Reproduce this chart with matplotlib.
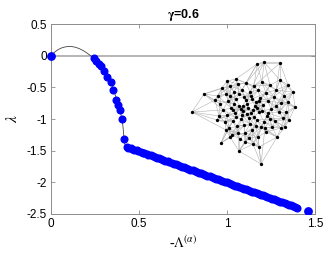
import numpy as np
import matplotlib
matplotlib.use("Agg")
import matplotlib.pyplot as plt

plt.rcParams['font.family'] = ['Liberation Sans', 'DejaVu Sans']
plt.rcParams['mathtext.fontset'] = 'stix'

# eigenvalue points: x = -Lambda^(alpha), y = lambda
head_x = [0.0, 0.245, 0.258, 0.271, 0.284, 0.303, 0.319, 0.340, 0.355, 0.372, 0.381, 0.390, 0.404, 0.415]
head_y = [0.0, -0.04, -0.08, -0.13, -0.17, -0.24, -0.33, -0.42, -0.54, -0.70, -0.78, -0.85, -1.00, -1.32]

tail_x = [0.430, 0.440, 0.452, 0.461, 0.473, 0.486, 0.495, 0.509, 0.520, 0.531, 0.544, 0.553, 0.566,
          0.578, 0.590, 0.601, 0.613, 0.626, 0.637, 0.648, 0.662, 0.673, 0.685, 0.697, 0.708, 0.721,
          0.733, 0.744, 0.757, 0.769, 0.781, 0.792, 0.805, 0.818, 0.829, 0.841, 0.853, 0.866, 0.877,
          0.889, 0.902, 0.913, 0.925, 0.938, 0.950, 0.961, 0.974, 0.986, 0.998, 1.010, 1.022, 1.035,
          1.047, 1.058, 1.071, 1.083, 1.095, 1.108, 1.120, 1.131, 1.144, 1.156, 1.168, 1.181, 1.193,
          1.205, 1.217, 1.229, 1.242, 1.254, 1.266, 1.279, 1.291, 1.303, 1.315, 1.327, 1.339, 1.352,
          1.364, 1.376, 1.388, 1.400]
tail_y = [-1.440, -1.450, -1.462, -1.471, -1.483, -1.495, -1.504, -1.518, -1.529, -1.540, -1.553,
          -1.562, -1.575, -1.587, -1.598, -1.609, -1.621, -1.634, -1.645, -1.656, -1.670, -1.681,
          -1.692, -1.704, -1.715, -1.728, -1.740, -1.751, -1.764, -1.776, -1.787, -1.798, -1.811,
          -1.824, -1.835, -1.847, -1.859, -1.872, -1.883, -1.894, -1.907, -1.918, -1.930, -1.943,
          -1.955, -1.966, -1.979, -1.990, -2.002, -2.014, -2.026, -2.039, -2.051, -2.062, -2.075,
          -2.086, -2.098, -2.111, -2.123, -2.134, -2.147, -2.159, -2.171, -2.183, -2.195, -2.207,
          -2.219, -2.231, -2.244, -2.256, -2.268, -2.281, -2.292, -2.304, -2.316, -2.328, -2.340,
          -2.353, -2.365, -2.377, -2.389, -2.400]

last_x = [1.462]
last_y = [-2.46]

# thin analytic curve
curve_x = [0.0, 0.02, 0.04, 0.06, 0.08, 0.10, 0.12, 0.14, 0.16, 0.18, 0.20, 0.22, 0.245, 0.271,
           0.303, 0.340, 0.372, 0.390, 0.404, 0.410, 0.415, 0.420, 0.430]
curve_y = [0.0, 0.055, 0.095, 0.122, 0.138, 0.145, 0.143, 0.132, 0.112, 0.085, 0.05, 0.01, -0.04,
           -0.13, -0.24, -0.42, -0.68, -0.85, -1.00, -1.15, -1.32, -1.40, -1.44]

# network inset node positions (inset pixel coordinates)
node_x = [192, 204, 221, 239, 261, 253, 259, 257, 264, 280, 295, 293, 288, 280, 227, 236, 215, 217,
          277, 285, 230, 245,
          222, 230, 238, 246, 254, 262, 270, 276, 284, 288,
          218, 226, 234, 242, 250, 258, 266, 274, 281, 286,
          220, 228, 236, 244, 252, 260, 268, 276, 283, 289,
          223, 231, 239, 247, 255, 263, 271, 279, 275, 281,
          219, 227, 235, 243, 251, 259, 267, 272, 266, 258,
          225, 233, 241, 249, 257, 264, 270, 261, 252, 245,
          229, 237, 244, 250, 256, 238, 232, 226, 240, 249,
          246, 253, 239, 262, 234, 248, 256, 242, 265, 230,
          243, 251, 236, 259, 247, 254, 241, 268, 233, 257]
node_y = [112, 94, 143, 151, 164, 144, 147, 64, 62, 63, 107, 92, 85, 80, 81, 79, 100, 120,
          137, 127, 137, 142,
          88, 86, 84, 83, 86, 82, 85, 90, 96, 102,
          96, 94, 92, 90, 92, 90, 93, 97, 103, 112,
          104, 101, 99, 97, 99, 98, 101, 106, 118, 120,
          110, 108, 106, 104, 106, 105, 109, 112, 121, 128,
          116, 115, 113, 111, 113, 112, 116, 127, 132, 137,
          122, 121, 119, 118, 120, 122, 119, 127, 130, 133,
          128, 126, 125, 124, 126, 133, 135, 130, 139, 138,
          100, 110, 94, 111, 104, 108, 102, 115, 128, 96,
          106, 96, 117, 101, 114, 117, 109, 113, 110, 108]

fig = plt.figure(figsize=(3.27, 2.63), dpi=100)
ax = fig.add_axes([51 / 327, 1 - 214 / 263, 264 / 327, 190 / 263])

gcol = '#8c8c8c'
ax.axhline(0, color='#b0b0b0', lw=1.3, zorder=1)
ax.plot(curve_x, curve_y, color='#444444', lw=0.6, zorder=2)
ax.plot(head_x[1:], head_y[1:], 'o', color='blue', ms=4.8, mec='blue', zorder=3)
ax.plot(tail_x, tail_y, 'o', color='blue', ms=4.8, mec='blue', zorder=3)
ax.plot(head_x[:1], head_y[:1], 'o', color='blue', ms=5.3, zorder=4, clip_on=False)
ax.plot(last_x, last_y, 'o', color='blue', ms=5.3, zorder=4)

ax.set_xlim(0, 1.5)
ax.set_ylim(-2.5, 0.5)
ax.set_xticks([0, 0.5, 1, 1.5])
ax.set_xticklabels(['0', '0.5', '1', '1.5'])
ax.set_yticks([-2.5, -2, -1.5, -1, -0.5, 0, 0.5])
ax.set_yticklabels(['-2.5', '-2', '-1.5', '-1', '-0.5', '0', '0.5'])
ax.tick_params(direction='in', length=3, width=0.6, color=gcol, labelsize=8.5,
               top=True, right=True, pad=3)
for s in ax.spines.values():
    s.set_color(gcol)
    s.set_linewidth(0.7)

ax.set_title(r'$\mathbf{\gamma}$=0.6', fontsize=9, fontweight='bold', pad=4)
ax.set_ylabel(r'$\lambda$', fontsize=11, labelpad=5)
ax.set_xlabel(r'-$\Lambda^{(\alpha)}$', fontsize=10, family='Liberation Serif', labelpad=3)

# network inset
ins = fig.add_axes([188 / 327, 1 - 168 / 263, 112 / 327, 110 / 263])
ins.set_xlim(188, 300)
ins.set_ylim(168, 58)
ins.axis('off')
nx = np.array(node_x, float)
ny = np.array(node_y, float)
d = np.hypot(nx[:, None] - nx[None, :], ny[:, None] - ny[None, :])
order = np.argsort(d, axis=1)
edges = set()
for i in range(len(nx)):
    for k in (1, 2, 3, 4, 7, 12):
        j = order[i, k]
        edges.add((min(i, j), max(i, j)))
for i, j in edges:
    ins.plot([nx[i], nx[j]], [ny[i], ny[j]], color='#b0b0b0', lw=0.4, zorder=1)
ins.plot(nx, ny, 'o', color='black', ms=2.4, mew=0, zorder=2)

fig.savefig('out.png', dpi=100)
